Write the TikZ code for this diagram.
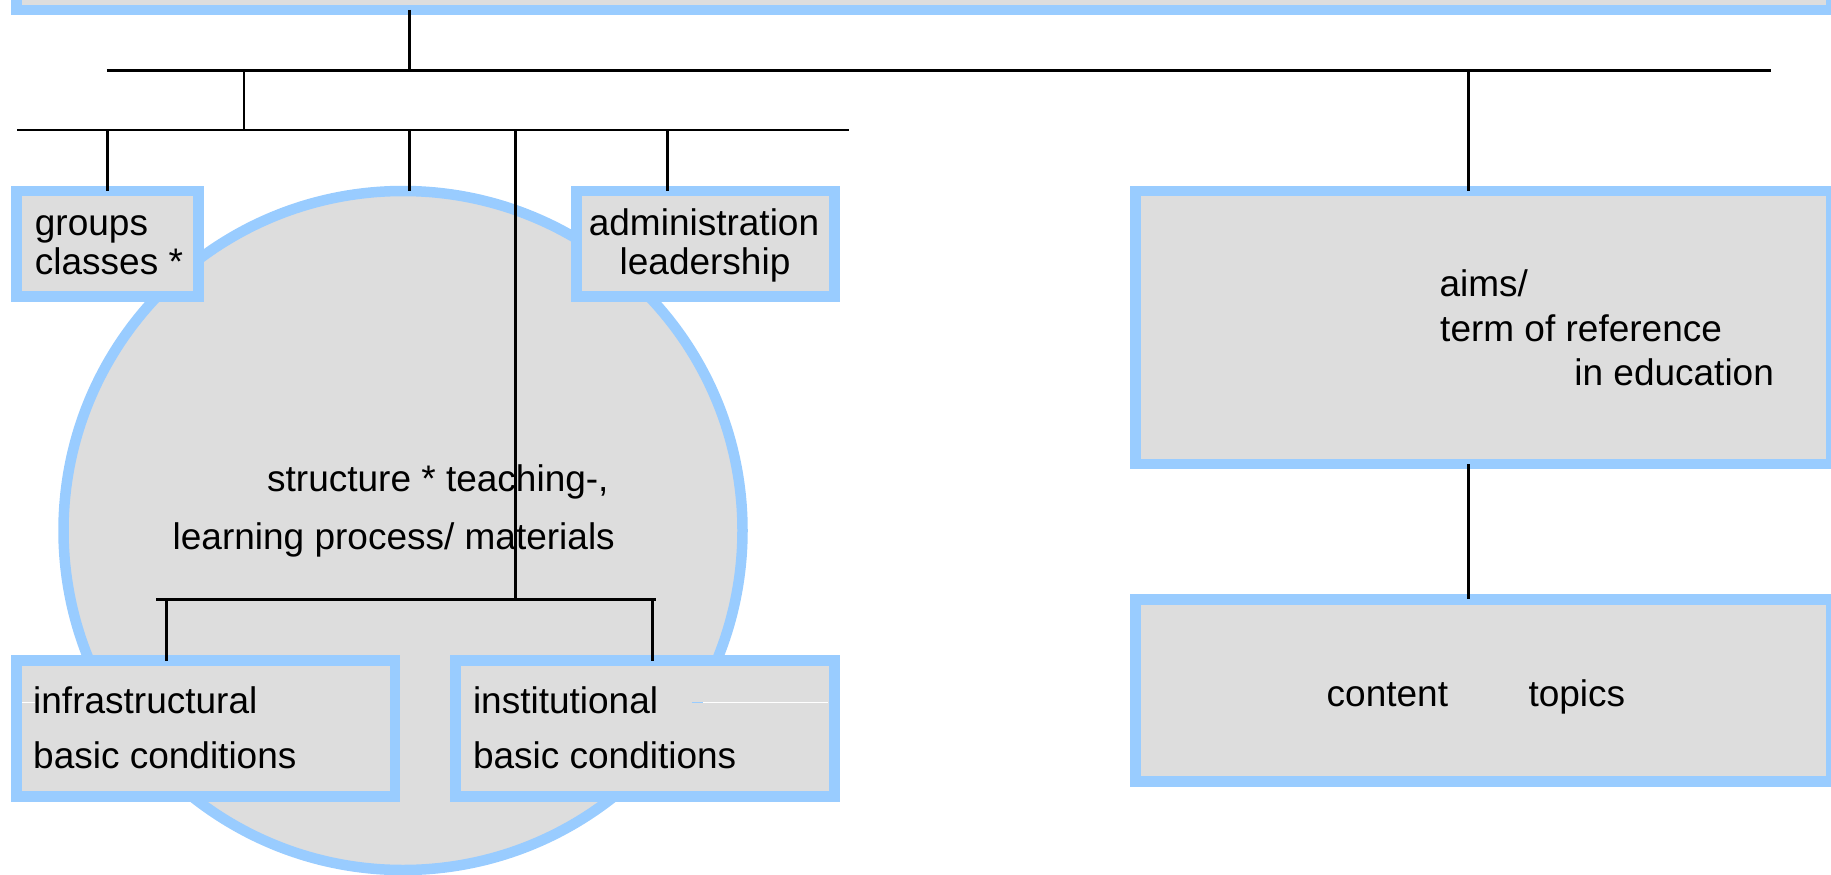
\documentclass[tikz,border=0pt]{standalone}
\usepackage{fontspec}
\setmainfont{Liberation Sans}
\definecolor{frameblue}{RGB}{153,204,255}
\definecolor{fillgray}{RGB}{221,221,221}
\tikzset{
  frame/.style={draw=frameblue, fill=fillgray, line width=10.5pt, inner sep=0pt, outer sep=0pt},
  bus/.style={draw=black, line width=2.6pt},
  lbl/.style={inner sep=0pt, font=\fontsize{37}{44}\selectfont},
}
\begin{document}
\begin{tikzpicture}[x=1pt,y=1pt,yscale=-1,xscale=1]
\useasboundingbox (0,0) rectangle (1831,875);
\clip (0,0) rectangle (1831,875);

%Shape: Circle
\node[frame, circle, minimum size=679pt] (hub) at (403,530.5) {};

%Shape: Rectangle
\node[frame, minimum width=1814.5pt, minimum height=70pt] (topbox) at (923.75,-25) {};
%Shape: Rectangle
\node[frame, minimum width=181.8pt, minimum height=105.7pt] (groups) at (107.4,243.85) {};
%Shape: Rectangle
\node[frame, minimum width=257.8pt, minimum height=105.7pt] (admin) at (705.4,243.85) {};
%Shape: Rectangle
\node[frame, minimum width=695.6pt, minimum height=273pt] (aims) at (1483.2,327.5) {};
%Shape: Rectangle
\node[frame, minimum width=695.6pt, minimum height=182.4pt] (content) at (1483.2,690.5) {};
%Shape: Rectangle
\node[frame, minimum width=378.5pt, minimum height=136pt] (infra) at (205.75,728.7) {};
%Shape: Rectangle
\node[frame, minimum width=378.7pt, minimum height=136pt] (inst) at (644.95,728.7) {};

%Straight Lines
\draw[white, line width=0.8pt] (21.8,702.3) -- (35,702.3);
\draw[frameblue, line width=0.8pt] (691.7,702.3) -- (703,702.3);
\draw[white, line width=0.8pt] (703,702.3) -- (828.4,702.3);

% texts
\node[lbl, anchor=base west] (grp1) at (34.7,235) {groups};
\node[lbl, anchor=base west] (grp2) at (34.7,274.3) {classes *};
\node[lbl, anchor=base] (adm1) at (704,235) {administration};
\node[lbl, anchor=base] (adm2) at (705,274.3) {leadership};
\node[lbl, anchor=base west] (hub1) at (267,491.7) {structure * teaching-,};
\node[lbl, anchor=base west] (hub2) at (172.5,549) {learning process/ materials};
\node[lbl, anchor=base west] (inf1) at (33,713.3) {infrastructural};
\node[lbl, anchor=base west] (inf2) at (33,768.3) {basic conditions};
\node[lbl, anchor=base west] (ins1) at (472.8,713.3) {institutional};
\node[lbl, anchor=base west] (ins2) at (472.8,768.3) {basic conditions};
\node[lbl, anchor=base west] (aim1) at (1439.4,296.5) {aims/};
\node[lbl, anchor=base west] (aim2) at (1440,341) {term of reference};
\node[lbl, anchor=base west] (aim3) at (1574.2,385.5) {in education};
\node[lbl, anchor=base west] (cnt1) at (1326.5,706.7) {content};
\node[lbl, anchor=base west] (cnt2) at (1528.3,706.7) {topics};

% bus ends and junctions
\coordinate (upL) at (106.8,70.3);
\coordinate (upR) at (1770.7,70.3);
\coordinate (loL) at (17.2,130);
\coordinate (loR) at (848.5,130);
\coordinate (midL) at (156,599.3);
\coordinate (midR) at (656,599.3);
\coordinate (jTop) at (409.3,70.3);
\coordinate (jLow) at (244,70.3);
\coordinate (jAim) at (1468.4,70.3);
\coordinate (jAdm) at (667.6,130);
\coordinate (jMid) at (515.5,130);
\coordinate (jInf) at (166.5,599.3);
\coordinate (jIns) at (652.7,599.3);

%Straight Lines
\draw[bus] (upL) -- (upR);
\draw[bus] (loL) -- (loR);
\draw[bus] (midL) -- (midR);
\draw[bus] (topbox.south -| jTop) -- (jTop);
\draw[bus] (jLow) -- (jLow |- loL);
\draw[bus] (jAim) -- (aims.north -| jAim);
\draw[bus] (aims.south -| jAim) -- (content.north -| jAim);
\draw[bus] (loL -| groups.north) -- (groups.north);
\draw[bus] (loL -| jTop) -- (hub.north -| jTop);
\draw[bus] (jAdm) -- (admin.north -| jAdm);
\draw[bus] (jMid) -- (jMid |- midL);
\draw[bus] (jInf) -- (infra.north -| jInf);
\draw[bus] (jIns) -- (inst.north -| jIns);
\end{tikzpicture}
\end{document}
